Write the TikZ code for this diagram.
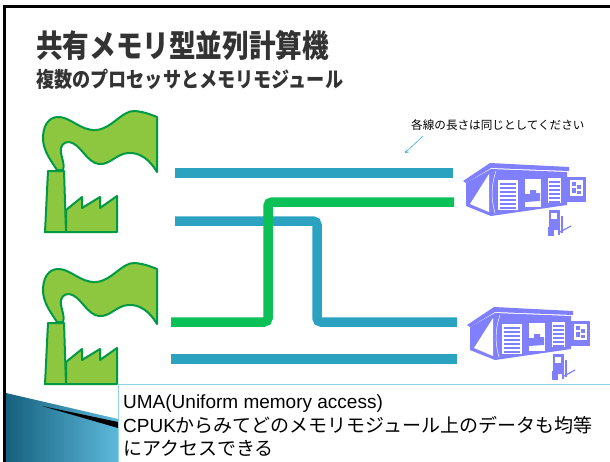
\documentclass[tikz,border=0pt]{standalone}
\usepackage{fontspec}
\setmainfont{Liberation Sans}
\newfontfamily\jp{Noto Sans CJK JP}
\usetikzlibrary{arrows.meta}
\definecolor{busblue}{HTML}{2BA2BF}
\definecolor{busgreen}{HTML}{0CC058}
\definecolor{leaf}{HTML}{8DC63F}
\definecolor{leafdark}{HTML}{009A44}
\definecolor{depot}{HTML}{8080FF}
\definecolor{boxline}{HTML}{8ED6E6}
\definecolor{titlegray}{HTML}{333333}
\definecolor{notearrow}{HTML}{3AAFD6}
\definecolor{curldark}{HTML}{15607E}
\definecolor{curllight}{HTML}{5DB9DB}

\tikzset{
  bus/.style={line width=9.5pt, rounded corners=4pt},
  factory/.pic={
    \begin{scope}[fill=leaf, draw=leafdark, line width=2pt, line join=round]
      % smoke plume
      \filldraw (57,170) .. controls (52,162) and (42,150) .. (43,136)
        .. controls (44,124) and (49,118) .. (57,117)
        .. controls (70,116) and (80,131) .. (96,130)
        .. controls (112,129) and (122,110) .. (135,111)
        .. controls (145,112) and (152,115) .. (157,117)
        -- (157,172)
        .. controls (150,160) and (140,152) .. (128,153)
        .. controls (116,154) and (110,165) .. (99,164)
        .. controls (87,163) and (80,143) .. (69,142)
        .. controls (63,142) and (60,146) .. (61,153)
        .. controls (62,159) and (65,165) .. (63,170) -- cycle;
      % chimney
      \filldraw (48,171) -- (64,171) -- (66,232) -- (45,232) -- cycle;
      % saw-tooth hall
      \filldraw (66,210) -- (82,197) -- (82,208) -- (100,197) -- (100,208)
        -- (117,196) -- (117,232) -- (66,232) -- cycle;
    \end{scope}
  },
  warehouse/.pic={
    % roof
    \fill[depot] (5,26) -- (32,8) -- (111,12) -- (111,16) -- (33,13) -- (8,28) -- cycle;
    % gable end
    \fill[depot] (8,28) -- (33,14) -- (33,61) -- (8,51) -- cycle;
    \fill[white] (12,49) -- (31,19) -- (31,57) -- cycle;
    % front wall
    \fill[depot] (33,14) -- (109,17) -- (109,50) -- (33,61) -- cycle;
    \draw[white, line width=0.5pt] (38,16) .. controls (33,30) and (33,45) .. (37,58);
    % shutter doors
    \fill[white] (40,25) rectangle (60,55);
    \foreach \yy in {29,33,...,53} \draw[depot, line width=1.4pt] (42,\yy) -- (58,\yy);
    \fill[white] (67,24) rectangle (83,52);
    \fill[depot] (67,39) -- (72,39) -- (72,35) -- (78,35) -- (78,38) -- (82,38)
      -- (82,46) -- (67,47) -- cycle;
    \fill[white] (90,23) rectangle (103,48);
    \foreach \yy in {27,31,...,47} \draw[depot, line width=1.4pt] (91,\yy) -- (102,\yy);
    % container truck
    \fill[depot] (109,22) rectangle (128,44);
    \fill[white] (112,25) rectangle (125,41);
    \fill[depot] (114,27) rectangle (118,31);
    \fill[depot] (119,30) rectangle (123,34);
    \fill[depot] (114,33) rectangle (118,38);
    \fill[depot] (119,36) rectangle (123,39);
    \fill[depot] (106,44) rectangle (128,47);
    % forklift
    \fill[depot] (91,55) rectangle (101,75);
    \fill[white] (93,58) rectangle (99,64);
    \fill[depot] (90,72) rectangle (96,81);
    \fill[depot] (100,55) rectangle (102,80);
    \draw[depot, line width=1.2pt] (104,61) -- (104,78);
    \draw[depot, line width=1.2pt] (102,77) -- (113,71);
  }
}

\begin{document}
\begin{tikzpicture}[x=1pt, y=-1pt]
\useasboundingbox (0,0) rectangle (610,461);
\fill[white] (0,0) rectangle (610,461);

% headings
\node[anchor=west, inner sep=0, text=titlegray] (title) at (36,45)
  {\scalebox{0.95}[1.12]{\jp\bfseries\fontsize{28}{30}\selectfont 共有メモリ型並列計算機}};
\node[anchor=west, inner sep=0, text=titlegray] (subtitle) at (36,79)
  {\scalebox{0.98}[1.15]{\jp\bfseries\fontsize{18.5}{20}\selectfont 複数のプロセッサとメモリモジュール}};

% note with pointer
\node[anchor=west, inner sep=0] (note) at (411,125)
  {\jp\fontsize{11.6}{13}\selectfont 各線の長さは同じとしてください};
\coordinate (notetail) at (423,136);
\coordinate (notehead) at (405,153);
\draw[notearrow, line width=0.6pt, -{Straight Barb[length=3pt, width=4pt]}] (notetail) -- (notehead);

% processors and memory modules
\pic (cpuA) at (0,0) {factory};
\pic (cpuB) at (0,152) {factory};
\pic (memA) at (458,155) {warehouse};
\pic (memB) at (462,299) {warehouse};

% bus endpoints
\coordinate (a1) at (175,173);  \coordinate (a2) at (453,173);
\coordinate (b1) at (175,221);  \coordinate (b2) at (457,322);
\coordinate (g1) at (171,322);  \coordinate (g2) at (454,202);
\coordinate (d1) at (171,359);  \coordinate (d2) at (457,359);

% buses
\draw[bus, busblue] (a1) -- (a2);
\draw[bus, busblue] (b1) -- (317,221) -- (317,322) -- (b2);
\draw[bus, busblue] (d1) -- (d2);
\draw[bus, busgreen] (g1) -- (268,322) -- (268,202) -- (g2);

% corner curl
\shade[left color=curldark, right color=curllight]
  (6,393) -- (118,419) -- (118,462) -- (6,462) -- cycle;
\fill[black] (42,406) -- (118,422) -- (118,428) -- cycle;

% caption box
\fill[white] (118,384) rectangle (611,462);
\draw[boxline, line width=1pt] (118,462) -- (118,384) -- (611,384);
\node[anchor=base west, inner sep=0] (cap1) at (123,408)
  {\fontsize{19}{24}\selectfont UMA(Uniform memory access)};
\node[anchor=base west, inner sep=0] (cap2) at (123,432)
  {\fontsize{19}{24}\selectfont CPUK{\jp からみてどのメモリモジュール上のデータも均等}};
\node[anchor=base west, inner sep=0] (cap3) at (123,455)
  {\fontsize{19}{24}\selectfont {\jp にアクセスできる}};

% slide frame
\draw[black, line width=3pt] (3,6) -- (611,6);
\draw[black, line width=3pt] (4.5,5) -- (4.5,462);
\end{tikzpicture}
\end{document}
